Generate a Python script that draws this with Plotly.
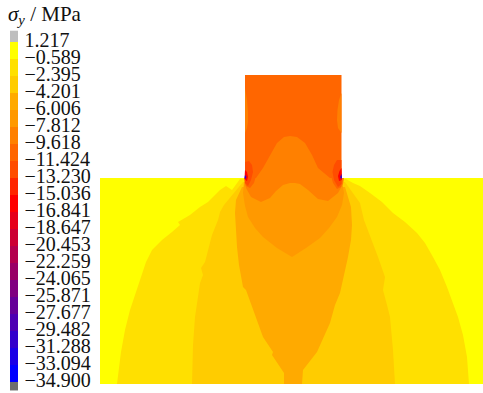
import plotly.graph_objects as go

tick_values = [1.217, -0.589, -2.395, -4.201, -6.006, -7.812, -9.618, -11.424, -13.230, -15.036,
               -16.841, -18.647, -20.453, -22.259, -24.065, -25.871, -27.677, -29.482, -31.288,
               -33.094, -34.900]
tick_labels = ["1.217"] + ["\u2212" + f"{abs(v):.3f}" for v in tick_values[1:]]
band_colors = ["#FFFF00", "#FFE000", "#FFCC00", "#FFAA00", "#FF9900", "#FF8000", "#FF6600", "#FF4D00",
               "#FF2600", "#FF0000", "#E6001A", "#CC0033", "#B3004D", "#990066", "#800080", "#660099",
               "#4D00B3", "#3300CC", "#1A00E6", "#0000FF"]
over_color = "#BEBEBE"
under_color = "#6E6E6E"

plate_x = [100, 483, 483, 100]
plate_y = [178, 178, 384, 384]
level1_x = [117, 119, 121, 125, 130, 136, 142, 146, 152, 162, 172, 180, 178, 190, 200, 208, 216, 220, 226, 232, 240,
            346, 353, 360, 370, 382, 393, 405, 417, 425, 433, 440, 447, 452, 458, 463, 467, 469]
level1_y = [384, 365, 352, 330, 310, 292, 273, 262, 250, 240, 232, 225, 222, 215, 207, 202, 194, 190, 186, 190, 179,
            179, 183, 186, 193, 202, 213, 222, 233, 243, 257, 270, 287, 300, 317, 335, 357, 384]
level2_x = [192, 193, 195, 198, 200, 203, 201, 205, 208, 212, 218, 220, 224, 228, 236, 243,
            345, 352, 360, 364, 372, 378, 385, 383, 387, 390, 393, 395]
level2_y = [384, 345, 317, 295, 283, 275, 268, 262, 250, 235, 220, 212, 205, 200, 190, 182,
            182, 192, 203, 220, 240, 257, 277, 290, 305, 317, 350, 384]
level3_x = [284, 284, 272, 273, 263, 257, 252, 246, 243, 239, 237, 235, 236, 242,
            345, 351, 352, 351, 348, 344, 340, 335, 330, 317, 313, 303, 302]
level3_y = [384, 373, 355, 352, 337, 320, 305, 290, 287, 265, 247, 213, 200, 187,
            187, 207, 225, 240, 257, 275, 293, 305, 323, 352, 357, 370, 384]
level4_x = [244, 243, 245, 248, 255, 263, 277, 292, 306, 320, 329, 337, 342, 344, 342]
level4_y = [182, 193, 206, 217, 228, 237, 248, 257, 248, 238, 228, 217, 205, 193, 182]
block_x = [245, 341.5, 341.5, 245]
block_y = [75, 75, 178, 178]
wave_x = [244, 256, 263, 270, 277, 284, 290, 297, 305, 312, 318, 330, 344, 343, 338, 328, 318, 308, 300, 295, 290,
          283, 276, 270, 261, 251, 246]
wave_y = [178, 178, 168, 155, 143, 137, 136, 137, 143, 155, 168, 178, 178, 184, 193, 201, 199, 190, 184, 183, 183,
          185, 191, 198, 202, 197, 188]
sliver_left_x = [245, 247, 248, 248, 247, 245]
sliver_left_y = [88, 100, 112, 122, 128, 133]
sliver_right_x = [341.5, 339, 337.5, 337, 338, 341.5]
sliver_right_y = [93, 100, 110, 120, 128, 133]
halo_left_x = [245, 256, 254, 250, 246, 244.5]
halo_left_y = [176, 176, 183, 188, 186, 181]
halo_right_x = [341.5, 331, 333, 337, 341, 342.5]
halo_right_y = [176, 176, 183, 189, 187, 181]
spot_left_x = [245, 249, 252, 253, 251, 248, 245]
spot_left_y = [162, 161, 165, 172, 180, 186, 183]
spot_right_x = [341.5, 337, 334, 332.5, 334, 338, 341.5]
spot_right_y = [160, 160, 165, 172, 180, 187, 184]
core_left_x = [245, 247, 248, 247, 244.5]
core_left_y = [170, 172, 177, 181, 179]
core_right_x = [341.5, 339.5, 338, 339, 342]
core_right_y = [168, 171, 176, 181, 180]
tip_left_x = [245, 246.5, 245.5, 244.5]
tip_left_y = [175, 177, 179, 178]
tip_right_x = [341.5, 340, 341, 342]
tip_right_y = [174, 177, 179, 178]

regions = [
    (plate_x, plate_y, "#FFFF00"),
    (level1_x, level1_y, "#FFE000"),
    (level2_x, level2_y, "#FFCC00"),
    (level3_x, level3_y, "#FFAA00"),
    (level4_x, level4_y, "#FF9900"),
    (block_x, block_y, "#FF6600"),
    (wave_x, wave_y, "#FF8000"),
    (sliver_left_x, sliver_left_y, "#FF8000"),
    (sliver_right_x, sliver_right_y, "#FF8000"),
    (halo_left_x, halo_left_y, "#FF6600"),
    (halo_right_x, halo_right_y, "#FF6600"),
    (spot_left_x, spot_left_y, "#FF4D00"),
    (spot_right_x, spot_right_y, "#FF4D00"),
    (core_left_x, core_left_y, "#FF0000"),
    (core_right_x, core_right_y, "#FF0000"),
    (tip_left_x, tip_left_y, "#3300CC"),
    (tip_right_x, tip_right_y, "#3300CC"),
]

fig = go.Figure()
for xs, ys, color in regions:
    fig.add_trace(go.Scatter(x=xs, y=ys, mode="lines", fill="toself", fillcolor=color,
                             line=dict(width=0, color=color), hoverinfo="skip", showlegend=False))

for i, color in enumerate(band_colors):
    fig.add_trace(go.Bar(x=[14], y=[tick_values[i + 1] - tick_values[i]], base=[tick_values[i]], width=[8],
                         marker=dict(color=color, line=dict(width=0)), yaxis="y2", showlegend=False, hoverinfo="skip"))
fig.add_trace(go.Bar(x=[14], y=[1.2], base=[tick_values[0]], width=[8], marker=dict(color=over_color, line=dict(width=0)),
                     yaxis="y2", showlegend=False, hoverinfo="skip"))
fig.add_trace(go.Bar(x=[14], y=[-0.9], base=[tick_values[-1]], width=[8], marker=dict(color=under_color, line=dict(width=0)),
                     yaxis="y2", showlegend=False, hoverinfo="skip"))

fig.add_trace(go.Scatter(x=[24.5] * len(tick_values), y=tick_values, text=tick_labels, mode="text",
                         textposition="middle right", yaxis="y2", showlegend=False, hoverinfo="skip",
                         textfont=dict(family="Liberation Serif", size=20, color="#111111")))

fig.add_annotation(xref="x", yref="y", x=6, y=15, xanchor="left", yanchor="middle", showarrow=False,
                   text="<i>\u03c3<sub>y</sub></i> / MPa",
                   font=dict(family="Liberation Serif", size=21, color="#111111"))

fig.update_layout(
    width=483, height=393, margin=dict(l=0, r=0, t=0, b=0),
    paper_bgcolor="white", plot_bgcolor="white", barmode="overlay",
    xaxis=dict(range=[0, 483], visible=False, fixedrange=True),
    yaxis=dict(range=[393, 0], visible=False, fixedrange=True),
    yaxis2=dict(range=[-36.07, 5.678], overlaying="y", visible=False, fixedrange=True),
)
fig.write_html("out.html", config={"displayModeBar": False},
               post_script="document.body.style.margin='0';document.body.style.overflow='hidden';")
